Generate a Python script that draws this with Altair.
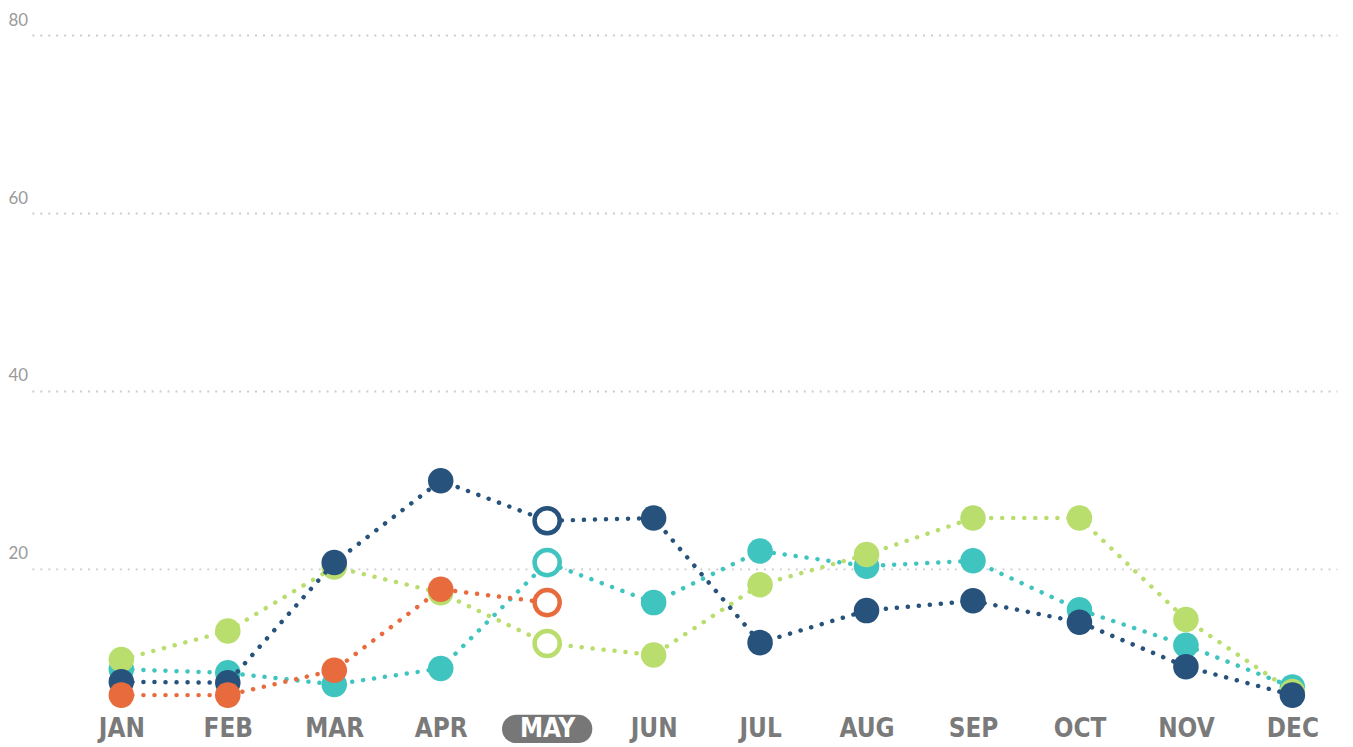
import altair as alt
import pandas as pd

months = ["JAN", "FEB", "MAR", "APR", "MAY", "JUN", "JUL", "AUG", "SEP", "OCT", "NOV", "DEC"]
navy_vals = [7.3, 7.2, 20.7, 29.9, 25.4, 25.7, 11.7, 15.3, 16.4, 14.0, 9.0, 5.8]
teal_vals = [8.7, 8.3, 7.0, 8.8, 20.7, 16.2, 22.0, 20.3, 20.9, 15.4, 11.4, 6.7]
lime_vals = [9.8, 13.0, 20.2, 17.3, 11.6, 10.3, 18.2, 21.6, 25.7, 25.7, 14.3, 6.2]
orange_vals = [5.8, 5.8, 8.6, 17.7, 16.2]

series_names = ["Teal", "Lime", "Navy", "Orange"]  # drawing order, bottom to top
series_vals = [teal_vals, lime_vals, navy_vals, orange_vals]
series_colors = ["#40c4bf", "#b9de6e", "#27527b", "#e86b3e"]
highlight_month = "MAY"
y_ticks = [20, 40, 60, 80]

rows = []
for name, vals in zip(series_names, series_vals):
    for m, v in zip(months, vals):
        rows.append({"month": m, "value": v, "series": name})
df = pd.DataFrame(rows)

W, H = 1313, 698

x_enc = alt.X(
    "month:N",
    sort=months,
    scale=alt.Scale(type="point", padding=0.63, align=0.667),
    axis=alt.Axis(
        title=None, ticks=False, tickSize=0, domain=False, grid=False, labelAngle=0,
        labelFont="Liberation Sans Narrow, DejaVu Sans Condensed, sans-serif",
        labelFontSize=26, labelFontWeight="bold",
        labelColor={"condition": {"test": f"datum.value == '{highlight_month}'", "value": "#ffffff"},
                    "value": "#7a7a7a"},
        labelPadding=0, labelBaseline="middle", zindex=1,
    ),
)
y_enc = alt.Y(
    "value:Q",
    scale=alt.Scale(domain=[2, 80], zero=False, nice=False),
    axis=alt.Axis(
        title=None, values=y_ticks, ticks=False, tickSize=0, domain=False, grid=True,
        gridColor="#cccccc", gridDash=[2, 6], gridWidth=2,
        labelAlign="left", labelPadding=24, labelBaseline="bottom", labelOffset=-6,
        labelFont="Lato", labelFontSize=17, labelColor="#9a9a9a",
    ),
)
color_enc = alt.Color("series:N", scale=alt.Scale(domain=series_names, range=series_colors), legend=None)

pill_path = "M-1.1,-0.5L1.1,-0.5A0.5,0.5,0,0,1,1.1,0.5L-1.1,0.5A0.5,0.5,0,0,1,-1.1,-0.5Z"
pill = alt.Chart(pd.DataFrame({"month": [highlight_month]})).mark_point(
    shape=pill_path, size=3226, filled=True, color="#777777", opacity=1
).encode(x=x_enc, y=alt.value(H))

layers = [pill]
for name in series_names:
    sub = alt.Chart(df).transform_filter(alt.datum.series == name)
    line = sub.mark_line(strokeWidth=4.5, strokeDash=[0.1, 11], strokeCap="round").encode(
        x=x_enc, y=y_enc, color=color_enc
    )
    filled = sub.transform_filter(alt.datum.month != highlight_month).mark_circle(
        size=660, opacity=1
    ).encode(x=x_enc, y=y_enc, color=color_enc)
    hollow = sub.transform_filter(alt.datum.month == highlight_month).mark_point(
        size=640, filled=False, fill="#ffffff", fillOpacity=1, strokeWidth=4.5, opacity=1
    ).encode(x=x_enc, y=y_enc, color=color_enc)
    layers += [line, filled, hollow]

chart = alt.layer(*layers).properties(
    width=W, height=H,
    autosize=alt.AutoSizeParams(type="none"),
    padding={"left": 24, "top": 25, "right": 8, "bottom": 22},
    background="white",
).configure_view(stroke=None)

chart.save("out.html", embed_options={"renderer": "svg", "actions": False})
